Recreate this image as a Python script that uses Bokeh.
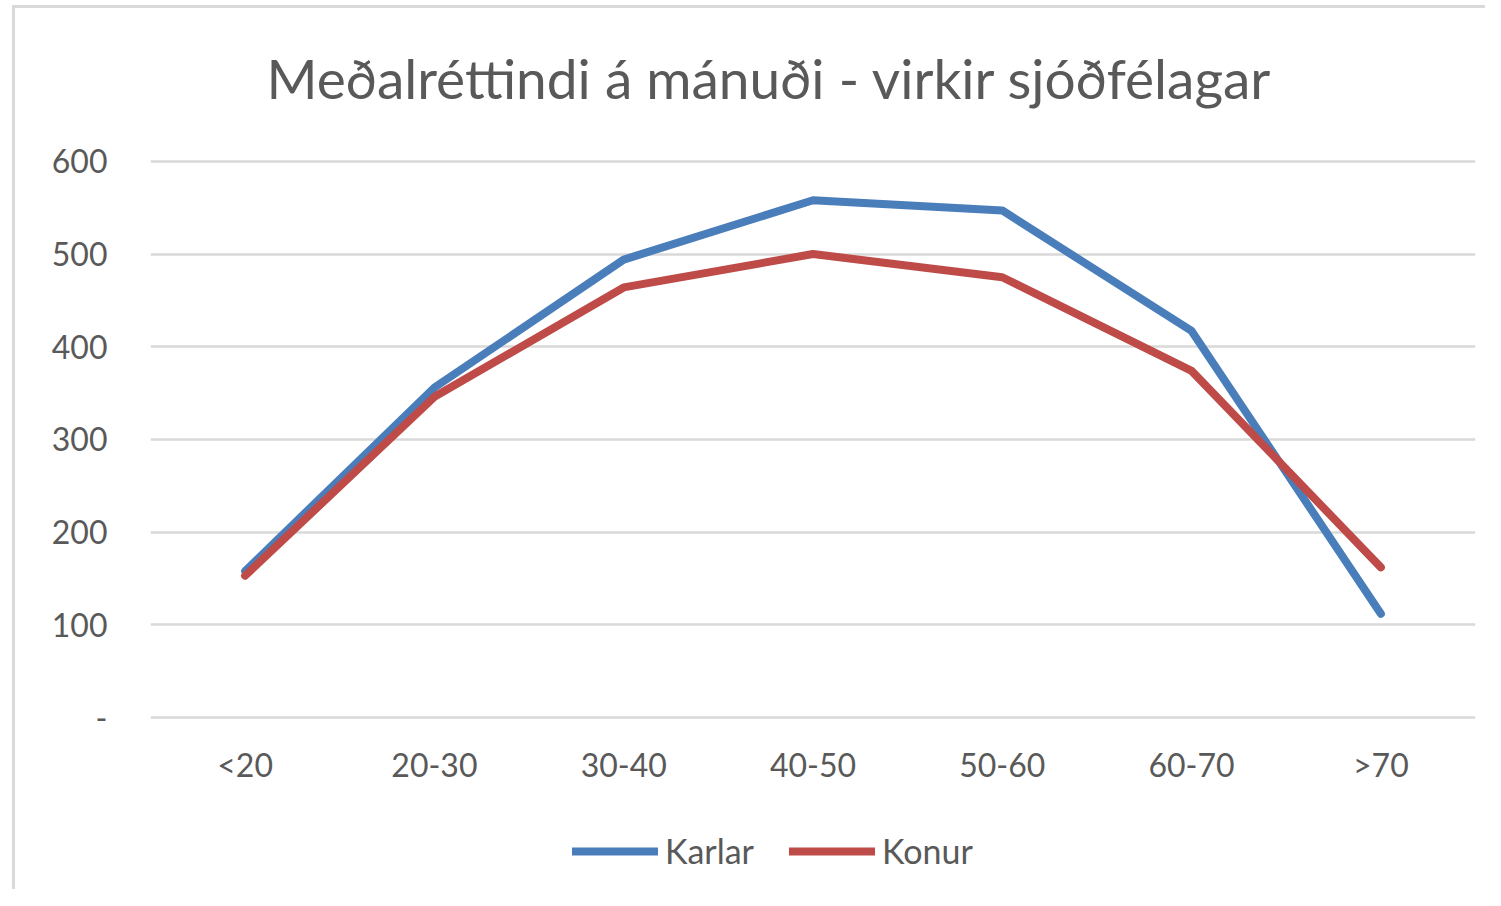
from bokeh.plotting import figure
from bokeh.models import Range1d, FactorRange, Legend, LegendItem, Title
from bokeh.embed import file_html
from bokeh.resources import INLINE

categories = ["<20", "20-30", "30-40", "40-50", "50-60", "60-70", ">70"]
karlar = [158, 356, 494, 558, 547, 417, 112]
konur = [153, 346, 464, 500, 475, 374, 162]
y_ticks = [0, 100, 200, 300, 400, 500, 600]

FONT = "Lato"
TXT = "#595959"

# frame extends below zero so the legend can sit inside it
p = figure(frame_width=1325, frame_height=730,
           x_range=FactorRange(*categories), y_range=Range1d(-185.5, 602),
           output_backend="svg", toolbar_location=None,
           min_border_left=135, min_border_right=10, min_border_top=10, min_border_bottom=0)
p.styles = {"border-left": "3px solid #d9d9d9", "border-top": "3px solid #d9d9d9",
            "margin-left": "12px", "margin-top": "5px"}
p.outline_line_color = None
p.background_fill_color = "white"
p.border_fill_color = "white"

spacer = Title(text=" ", text_font_size="1px", standoff=12)
p.add_layout(spacer, "above")
t = Title(text="Meðalréttindi á mánuði - virkir sjóðfélagar", text_font=FONT,
          text_font_size="55px", text_color=TXT, text_font_style="normal",
          align="left", offset=116, standoff=68)
p.add_layout(t, "above")

r1 = p.line(categories, karlar, line_color="#4A7EBB", line_width=8, line_cap="round", line_join="round")
r2 = p.line(categories, konur, line_color="#BE4B48", line_width=8, line_cap="round", line_join="round")

p.xgrid.grid_line_color = None
p.ygrid.grid_line_color = "#D9D9D9"
p.ygrid.grid_line_width = 2.5
p.yaxis.ticker = y_ticks
p.yaxis.major_label_overrides = {0: "-"}

for ax in (p.xaxis[0], p.yaxis[0]):
    ax.axis_line_color = None
    ax.major_tick_line_color = None
    ax.minor_tick_line_color = None
    ax.major_tick_out = 0
    ax.minor_tick_out = 0
    ax.major_label_text_font = FONT
    ax.major_label_text_font_size = "32px"
    ax.major_label_text_color = TXT
p.yaxis.major_label_standoff = 43
p.xaxis.major_label_standoff = 27
p.xaxis.fixed_location = 0

legend = Legend(items=[LegendItem(label="Karlar", renderers=[r1]),
                       LegendItem(label="Konur", renderers=[r2])],
                orientation="horizontal", location=(422, 18),
                label_text_font=FONT, label_text_font_size="34px", label_text_color=TXT,
                glyph_width=86, glyph_height=20, label_standoff=7, spacing=35,
                border_line_color=None, background_fill_alpha=0, margin=0, padding=0)
p.add_layout(legend)

open("out.html", "w").write(file_html(p, INLINE))
